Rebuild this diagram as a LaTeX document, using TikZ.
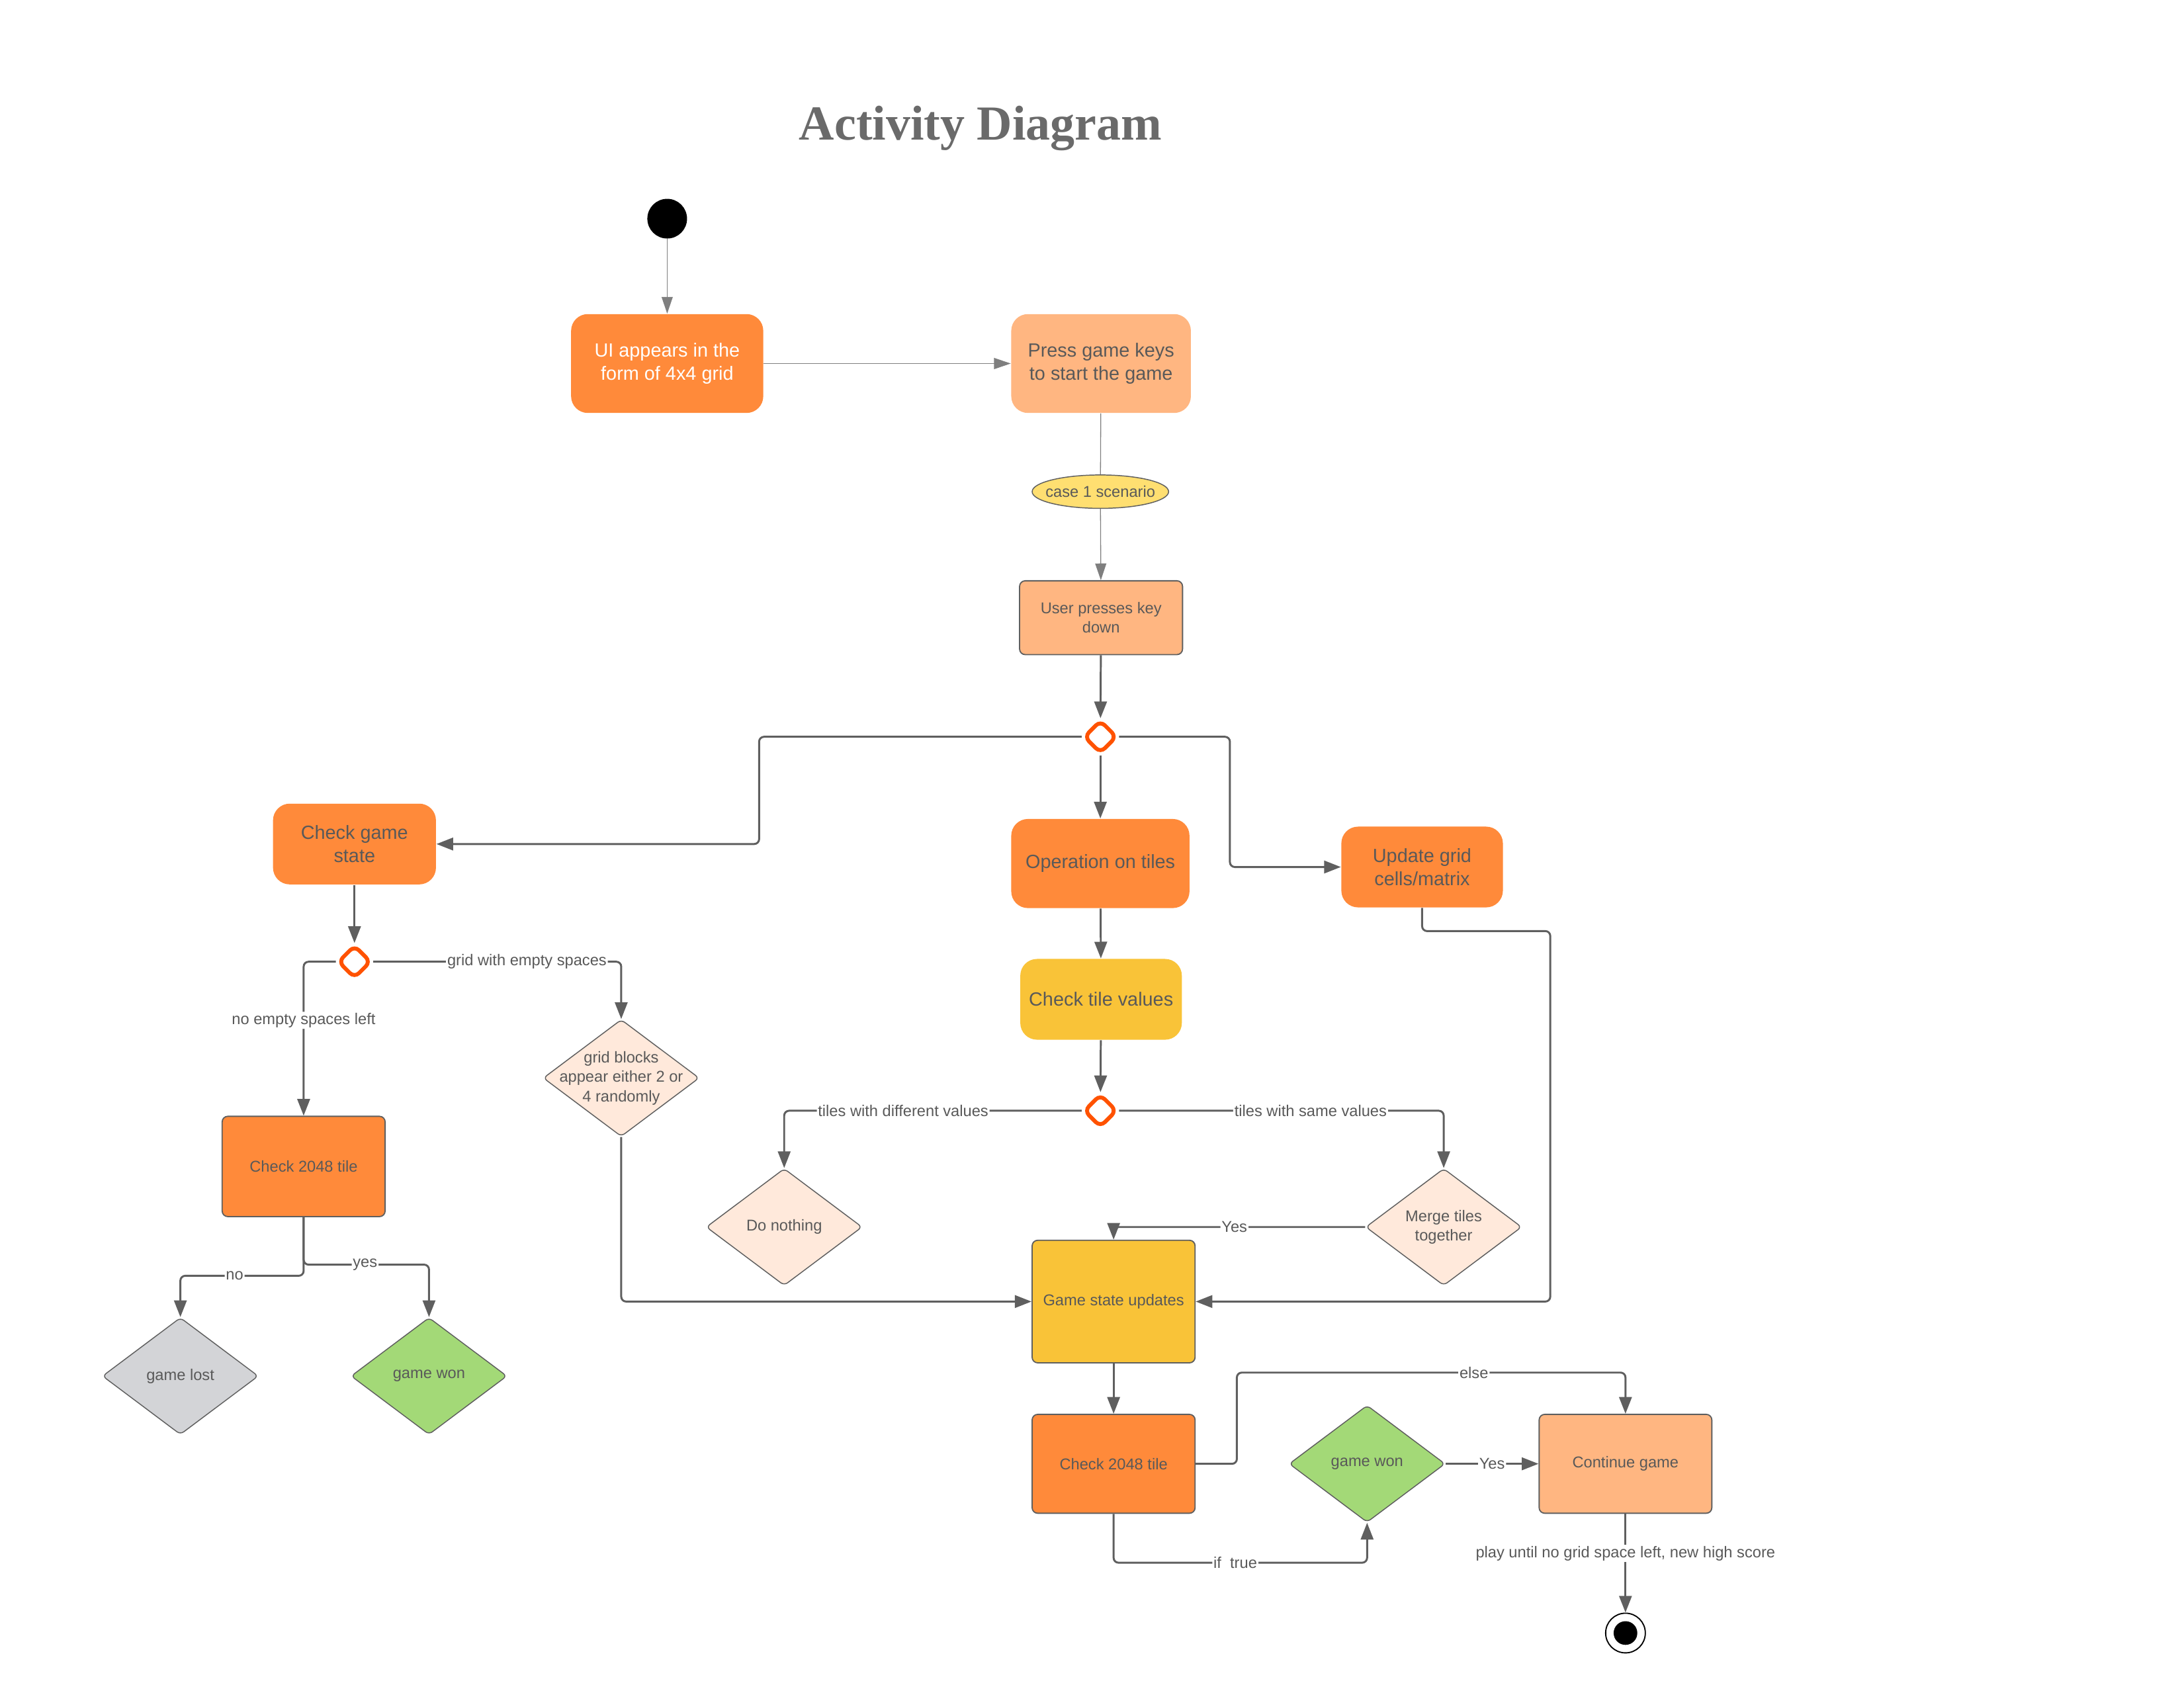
\documentclass[tikz,border=0pt]{standalone}
\usepackage{fontspec}
\setmainfont{Liberation Sans}
\newfontfamily\titlefont{Liberation Serif}
\usetikzlibrary{arrows.meta,shapes.geometric}

\definecolor{inkgray}{HTML}{5F5F5F}
\definecolor{txtgray}{HTML}{595959}
\definecolor{tileorange}{HTML}{FF8A3A}
\definecolor{lightorange}{HTML}{FFB681}
\definecolor{tileyellow}{HTML}{F9C338}
\definecolor{peach}{HTML}{FFE9DB}
\definecolor{wongreen}{HTML}{A3D977}
\definecolor{lostgray}{HTML}{D3D4D7}
\definecolor{notefill}{HTML}{FFDF71}
\definecolor{choicered}{HTML}{FF5200}

\newcommand{\bigtxt}{\fontsize{7.8}{9.6}\selectfont}
\newcommand{\smalltxt}{\fontsize{6.4}{8}\selectfont}

\tikzset{
  softbox/.style={rounded corners=0.24cm, align=center, text=txtgray, font=\bigtxt, inner sep=0pt},
  framebox/.style={draw=inkgray, line width=0.5pt, rounded corners=0.08cm, align=center, text=txtgray, font=\smalltxt, inner sep=0pt},
  choicebox/.style={diamond, draw=inkgray, line width=0.4pt, rounded corners=0.06cm, minimum width=2.24cm, minimum height=1.68cm, inner sep=0pt},
  diatext/.style={align=center, text=txtgray, font=\smalltxt},
  branch/.style={diamond, draw=choicered, fill=white, line width=1.6pt, rounded corners=0.09cm, minimum size=0.48cm, inner sep=0pt},
  flow/.style={draw=inkgray, line width=0.8pt, rounded corners=2pt, -{Triangle[length=0.24cm,width=0.18cm]}},
  faint/.style={draw=inkgray!80, line width=0.35pt, -{Triangle[length=0.24cm,width=0.16cm]}},
  edgelbl/.style={fill=white, inner sep=0.5pt, text=txtgray, font=\smalltxt},
}

\begin{document}
\begin{tikzpicture}[x=0.02cm, y=-0.02cm]
\useasboundingbox (0,0) rectangle (1568,1211);

\node[text=txtgray!90, anchor=base] (title) at (704,100.5) {\titlefont\fontsize{20}{24}\selectfont\bfseries Activity Diagram};

% start, first steps
\node[circle, fill=black, minimum size=0.57cm, inner sep=0pt] (start) at (479,157) {};
\node[softbox, fill=tileorange, text=white, minimum width=2.76cm, minimum height=1.42cm] (ui) at (479,261) {UI appears in the\\form of 4x4 grid};
\node[softbox, fill=lightorange, minimum width=2.58cm, minimum height=1.42cm] (press) at (790.5,261) {Press game keys\\to start the game};
\node[ellipse, draw=inkgray, line width=0.4pt, fill=notefill, minimum width=1.96cm, minimum height=0.48cm, inner sep=0pt, label={[diatext]center:case 1 scenario}] (case) at (790,353) {};
\node[framebox, fill=lightorange, minimum width=2.34cm, minimum height=1.06cm] (user) at (790.5,443.5) {User presses key\\down};
\node[branch] (dec1) at (790,529) {};

\node[softbox, fill=tileorange, minimum width=2.34cm, minimum height=1.16cm] (state) at (254.5,606) {Check game\\state};
\node[softbox, fill=tileorange, minimum width=2.56cm, minimum height=1.28cm] (oper) at (790,620) {Operation on tiles};
\node[softbox, fill=tileorange, minimum width=2.32cm, minimum height=1.16cm] (update) at (1021,622.5) {Update grid\\cells/matrix};

% left branch
\node[branch] (dec2) at (254.5,690.5) {};
\node[choicebox, fill=peach, label={[diatext]center:{grid blocks\\appear either 2 or\\4 randomly}}] (blocks) at (446,774) {};
\node[framebox, fill=tileorange, minimum width=2.34cm, minimum height=1.44cm] (check1) at (218,837.5) {Check 2048 tile};
\node[choicebox, fill=lostgray, label={[diatext]center:game lost}] (lost) at (129.5,988) {};
\node[choicebox, fill=wongreen, label={[diatext]center:game won}] (wonA) at (308,988) {};

% middle branch
\node[softbox, fill=tileyellow, minimum width=2.32cm, minimum height=1.16cm] (values) at (790.5,717.5) {Check tile values};
\node[branch] (dec3) at (790,797.5) {};
\node[choicebox, fill=peach, label={[diatext]center:Do nothing}] (nothing) at (563,881) {};
\node[choicebox, fill=peach, label={[diatext]center:{Merge tiles\\together}}] (merge) at (1036.5,881) {};

\node[framebox, fill=tileyellow, minimum width=2.34cm, minimum height=1.76cm] (gsu) at (799.5,934.5) {Game state updates};
\node[framebox, fill=tileorange, minimum width=2.34cm, minimum height=1.42cm] (check2) at (799.5,1051) {Check 2048 tile};
\node[choicebox, fill=wongreen, label={[diatext]center:game won}] (wonB) at (981.5,1051) {};
\node[framebox, fill=lightorange, minimum width=2.48cm, minimum height=1.42cm] (cont) at (1167,1051) {Continue game};
\node[circle, draw=black, line width=0.5pt, minimum size=0.57cm, inner sep=0pt, path picture={\fill[black] (path picture bounding box.center) circle (0.17cm);}] (finish) at (1167,1172.5) {};

% connectors
\draw[faint] (start) -- (ui);
\draw[faint] (ui) -- (press);
\draw[inkgray!80, line width=0.35pt] (press) -- (case);
\draw[faint] (case) -- (user);
\draw[flow] (user) -- (dec1);
\draw[flow] (dec1.west) -| (545,606) -- (state.east);
\draw[flow] (dec1) -- (oper);
\draw[flow] (dec1.east) -| (883,622.5) -- (update.west);
\draw[flow] (state) -- (dec2);
\draw[flow] (dec2.west) -| node[edgelbl, pos=0.69] {no empty spaces left} (check1.north);
\draw[flow] (dec2.east) -| node[edgelbl, pos=0.31] {grid with empty spaces} (blocks.north);
\draw[flow] (blocks.south) |- (gsu.west);
\draw[flow] (check1.south) -- (218,916) -| node[edgelbl, pos=0.28] {no} (lost.north);
\draw[flow] (check1.south) -- (218,908) -| node[edgelbl, pos=0.245] {yes} (wonA.north);
\draw[flow] (oper) -- (values);
\draw[flow] (values) -- (dec3);
\draw[flow] (dec3.west) -| node[edgelbl, pos=0.3] {tiles with different values} (nothing.north);
\draw[flow] (dec3.east) -| node[edgelbl, pos=0.295] {tiles with same values} (merge.north);
\draw[flow] (merge.west) -| node[edgelbl, pos=0.26] {Yes} (gsu.north);
\draw[flow] (update.south) -- (1021,668.5) -| (1113,934.5) -- (gsu.east);
\draw[flow] (gsu) -- (check2);
\draw[flow] (check2.east) -| (888,985.5) -| node[edgelbl, pos=0.305] {else} (cont.north);
\draw[flow] (check2.south) -- (799.5,1122) -| node[edgelbl, pos=0.24] {if\ \ true} (wonB.south);
\draw[flow] (wonB.east) -- node[edgelbl] {Yes} (cont.west);
\draw[flow] (cont.south) -- node[edgelbl, pos=0.4] {play until no grid space left, new high score} (finish.north);

\end{tikzpicture}
\end{document}
